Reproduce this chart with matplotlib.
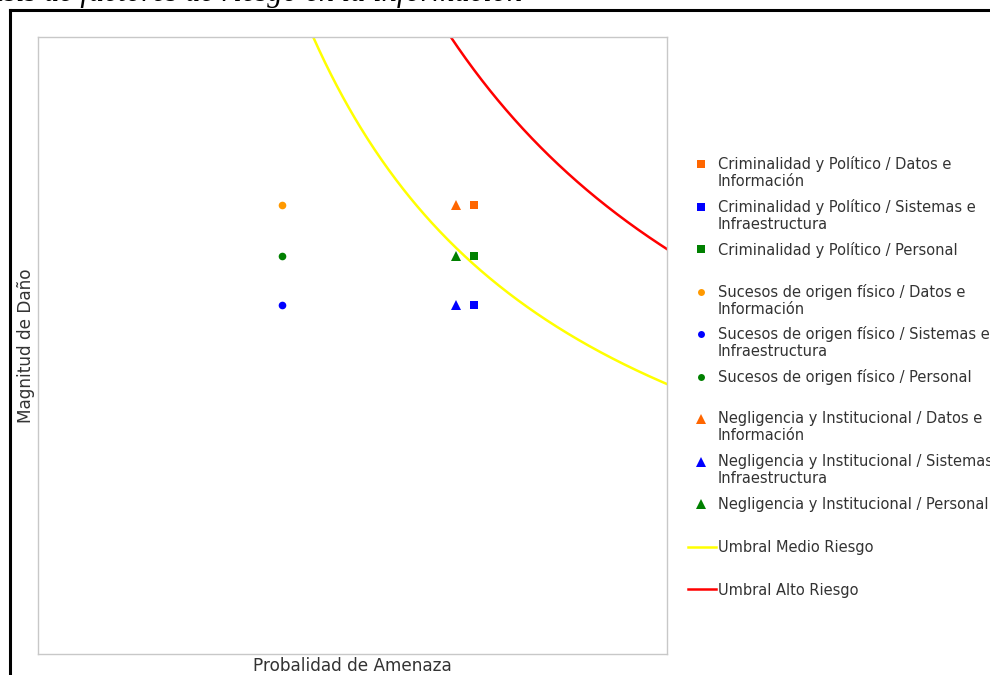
import numpy as np
import matplotlib
matplotlib.use("Agg")
import matplotlib.pyplot as plt
from matplotlib.lines import Line2D

# datos de la matriz de riesgo
labels = [
    "Criminalidad y Político / Datos e\nInformación",
    "Criminalidad y Político / Sistemas e\nInfraestructura",
    "Criminalidad y Político / Personal",
    "Sucesos de origen físico / Datos e\nInformación",
    "Sucesos de origen físico / Sistemas e\nInfraestructura",
    "Sucesos de origen físico / Personal",
    "Negligencia y Institucional / Datos e\nInformación",
    "Negligencia y Institucional / Sistemas e\nInfraestructura",
    "Negligencia y Institucional / Personal",
]
probabilidad = [2.77, 2.77, 2.77, 1.55, 1.55, 1.55, 2.66, 2.66, 2.66]
magnitud = [2.91, 2.26, 2.58, 2.91, 2.26, 2.58, 2.91, 2.26, 2.58]
marcadores = ["s", "s", "s", "o", "o", "o", "^", "^", "^"]
colores = ["#ff6600", "#0000ff", "#008000", "#ff9900", "#0000ff", "#008000",
           "#ff6600", "#0000ff", "#008000"]

# umbrales (probabilidad x magnitud)
umbral_labels = ["Umbral Medio Riesgo", "Umbral Alto Riesgo"]
umbral_valores = [7.0, 10.5]
umbral_colores = ["#ffff00", "#ff0000"]

W, H = 990, 675
fig = plt.figure(figsize=(W / 100, H / 100), dpi=100)
fig.patch.set_facecolor("white")

ax = fig.add_axes([38 / W, 21 / H, 629 / W, 617 / H])
ax.set_xlim(0, 4)
ax.set_ylim(0, 4)
ax.set_xticks([])
ax.set_yticks([])
for s in ax.spines.values():
    s.set_color("#c8c8c8")
    s.set_linewidth(1)

for v, c in zip(umbral_valores, umbral_colores):
    xs = np.linspace(v / 4, 4, 300)
    ax.plot(xs, v / xs, color=c, lw=1.8, zorder=2)

sizes = {"s": 6, "o": 5.5, "^": 7}
for x, y, m, c in zip(probabilidad, magnitud, marcadores, colores):
    ax.plot([x], [y], linestyle="none", marker=m, color=c, markersize=sizes[m],
            markeredgewidth=0, zorder=3)

fam = ["DejaVu Sans"]
ax.set_xlabel("Probalidad de Amenaza", fontsize=12.2, color="#333333", family=fam, labelpad=2)
ax.set_ylabel("Magnitud de Daño", fontsize=12.2, color="#333333", family=fam, labelpad=2)

# leyenda dibujada a mano en coordenadas de pixel
lax = fig.add_axes([0, 0, 1, 1])
lax.set_xlim(0, W)
lax.set_ylim(H, 0)
lax.axis("off")
y0, paso = 164, 42.5
for i, (lab, m, c) in enumerate(zip(labels, marcadores, colores)):
    y = y0 + i * paso
    lax.plot([701], [y], linestyle="none", marker=m, color=c, markersize=sizes[m] - 0.5,
             markeredgewidth=0)
    lax.text(718, y - 7.5, lab, fontsize=10.5, color="#333333", family=fam,
             va="top", ha="left", linespacing=1.15)
for j, (lab, c) in enumerate(zip(umbral_labels, umbral_colores)):
    y = y0 + (len(labels) + j) * paso
    lax.plot([688, 716], [y, y], color=c, lw=1.8)
    lax.text(718, y + 1, lab, fontsize=10.5, color="#333333", family=fam,
             va="center", ha="left")

# marco negro y titulo cortado
fig.add_artist(Line2D([9.5 / W, 9.5 / W], [-0.01, (H - 9.5) / H], color="black", lw=2.2))
fig.add_artist(Line2D([9.5 / W, 1.01], [(H - 9.5) / H] * 2, color="black", lw=2.2))
fig.text(523 / W, (H - 1.5) / H, "Análisis de factores de riesgo en la información",
         fontsize=22, style="italic", family=["Liberation Serif"], ha="right", va="baseline")

fig.savefig("out.png", dpi=100)
